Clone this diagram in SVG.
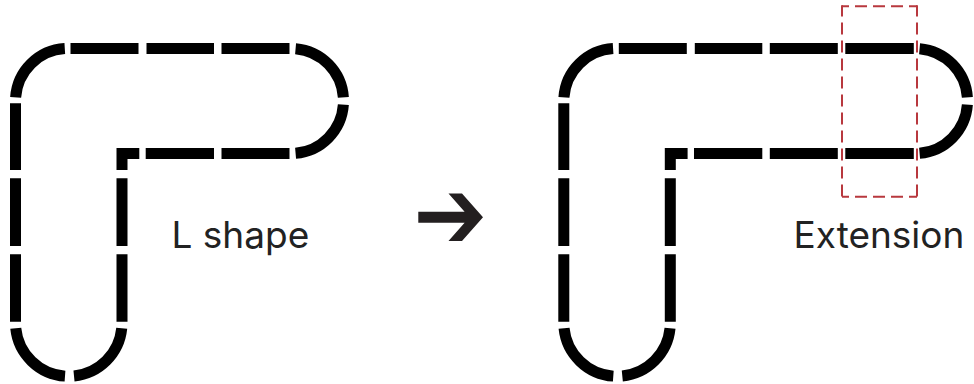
<svg xmlns="http://www.w3.org/2000/svg" xmlns:xlink="http://www.w3.org/1999/xlink" width="974" height="384" viewBox="0 0 974 384">
  <style>
    .seg { fill: none; stroke: #000; stroke-width: 11; stroke-linecap: butt; stroke-linejoin: miter; }
    .hl { fill: none; stroke: #b8383e; stroke-width: 2; stroke-dasharray: 12 6; }
    .lbl { font-family: Inter, "Liberation Sans", sans-serif; font-size: 37px; fill: #222; }
  </style>
  <defs>
    <g id="body">
      <path class="seg" d="M 15.63 97.34 A 52.5 52.5 0 0 1 64.79 48.60"/>
      <path class="seg" d="M 70.5 48.5 H 138.5 M 146.5 48.5 H 214 M 221.5 48.5 H 289.5"/>
      <path class="seg" d="M 15.5 103.3 V 170 M 15.5 178.3 V 246 M 15.5 254.3 V 321.7"/>
      <path class="seg" d="M 15.76 328.29 A 53.25 53.25 0 0 0 65.0 376.12"/>
      <path class="seg" d="M 74.0 375.99 A 53.25 53.25 0 0 0 121.74 328.29"/>
      <path class="seg" d="M 122 178.3 V 246 M 122 254.3 V 321.7"/>
      <path class="seg" d="M 122 170 V 153.5 H 139.3"/>
      <path class="seg" d="M 145.7 153.5 H 214 M 221.5 153.5 H 289.5"/>
    </g>
    <g id="rend">
      <path class="seg" d="M 295.58 48.70 A 52.5 52.5 0 0 1 343.37 97.34"/>
      <path class="seg" d="M 343.37 104.66 A 52.5 52.5 0 0 1 295.58 153.30"/>
    </g>
  </defs>

  <g id="l-shape">
    <use href="#body" xlink:href="#body"/>
    <use href="#rend" xlink:href="#rend"/>
    <text class="lbl" x="171.5" y="248">L shape</text>
  </g>

  <g id="connectors">
    <polygon id="arrow" fill="#231f20" points="418.3,211.75 464.6,211.75 448.5,193.5 462,193.5 483,217.25 462,241 448.5,241 464.6,222.75 418.3,222.75"/>
  </g>

  <g id="extension-shape">
    <use href="#body" xlink:href="#body" transform="translate(548.3 0)"/>
    <path class="seg" d="M 845.3 48.5 H 913.8 M 845.3 153.5 H 913.8"/>
    <use href="#rend" xlink:href="#rend" transform="translate(624 0)"/>
    <text class="lbl" x="793.5" y="248">Extension</text>
  </g>

  <g id="extension-highlight">
    <line class="hl" x1="842" y1="6.3" x2="917" y2="6.3" stroke-dashoffset="5"/>
    <line class="hl" x1="842" y1="196.7" x2="917" y2="196.7" stroke-dashoffset="5"/>
    <line class="hl" x1="842" y1="5.3" x2="842" y2="197.7" stroke-dashoffset="0.8"/>
    <line class="hl" x1="917" y1="5.3" x2="917" y2="197.7" stroke-dashoffset="0.8"/>
  </g>
</svg>
